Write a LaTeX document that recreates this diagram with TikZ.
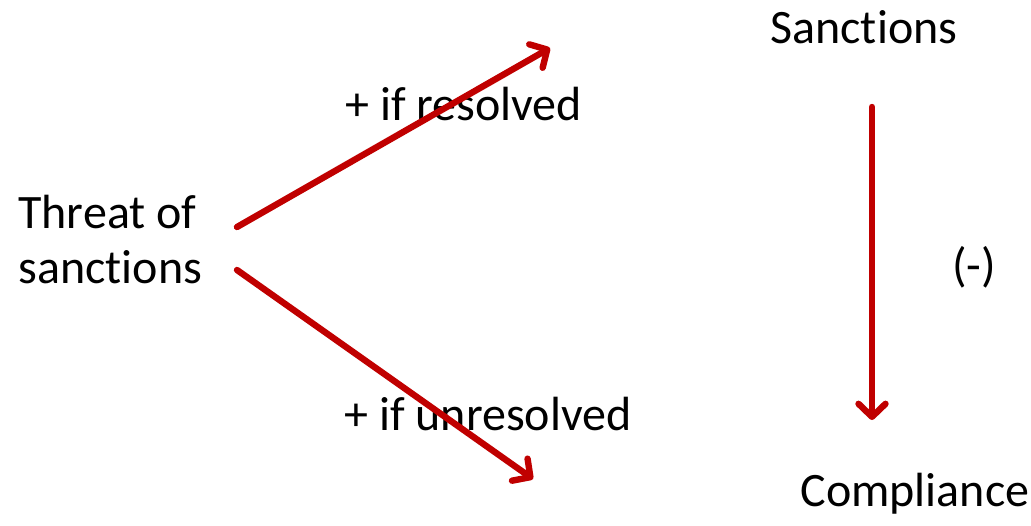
\documentclass[tikz,border=0pt]{standalone}
\usepackage{fontspec}
\setmainfont{Carlito}[Ligatures=NoCommon]
\usetikzlibrary{arrows.meta, positioning}

\definecolor{darkred}{HTML}{C00000}

\begin{document}
\begin{tikzpicture}[x=0.5pt,y=-0.5pt,
    every node/.style={inner sep=0pt,font=\fontsize{24}{27.5}\selectfont}]
  \tikzstyle{link}=[draw=darkred,line width=3.2pt,line cap=round,
    -{Straight Barb[length=6.5pt,width=13.5pt,line cap=round,line join=round]}]
  \useasboundingbox (0,0) rectangle (1031,525);
  % Factors
  \node[anchor=base west] (sanc) at (770,43) {Sanctions};
  \node[anchor=base west] (comp) at (800,506) {Compliance};
  \node[anchor=base west,align=left] (threat) at (18,283) {Threat of\\sanctions};
  % Edge labels
  \node[anchor=base west] (res) at (345,120) {+ if resolved};
  \node[anchor=base west] (unres) at (344,430) {+ if unresolved};
  \node[anchor=base west] (neg) at (952,281) {(-)};

  % Arrow ends
  \coordinate (t1) at (237,227);
  \coordinate (t2) at (237,270);
  \coordinate (r1) at (550,48);
  \coordinate (u1) at (533,479);
  \coordinate (s1) at (872,107);
  \coordinate (c1) at (872,420);

  \path[link] (t1) -- (r1);
  \path[link] (t2) -- (u1);
  \path[link] (s1) -- (c1);
\end{tikzpicture}
\end{document}
